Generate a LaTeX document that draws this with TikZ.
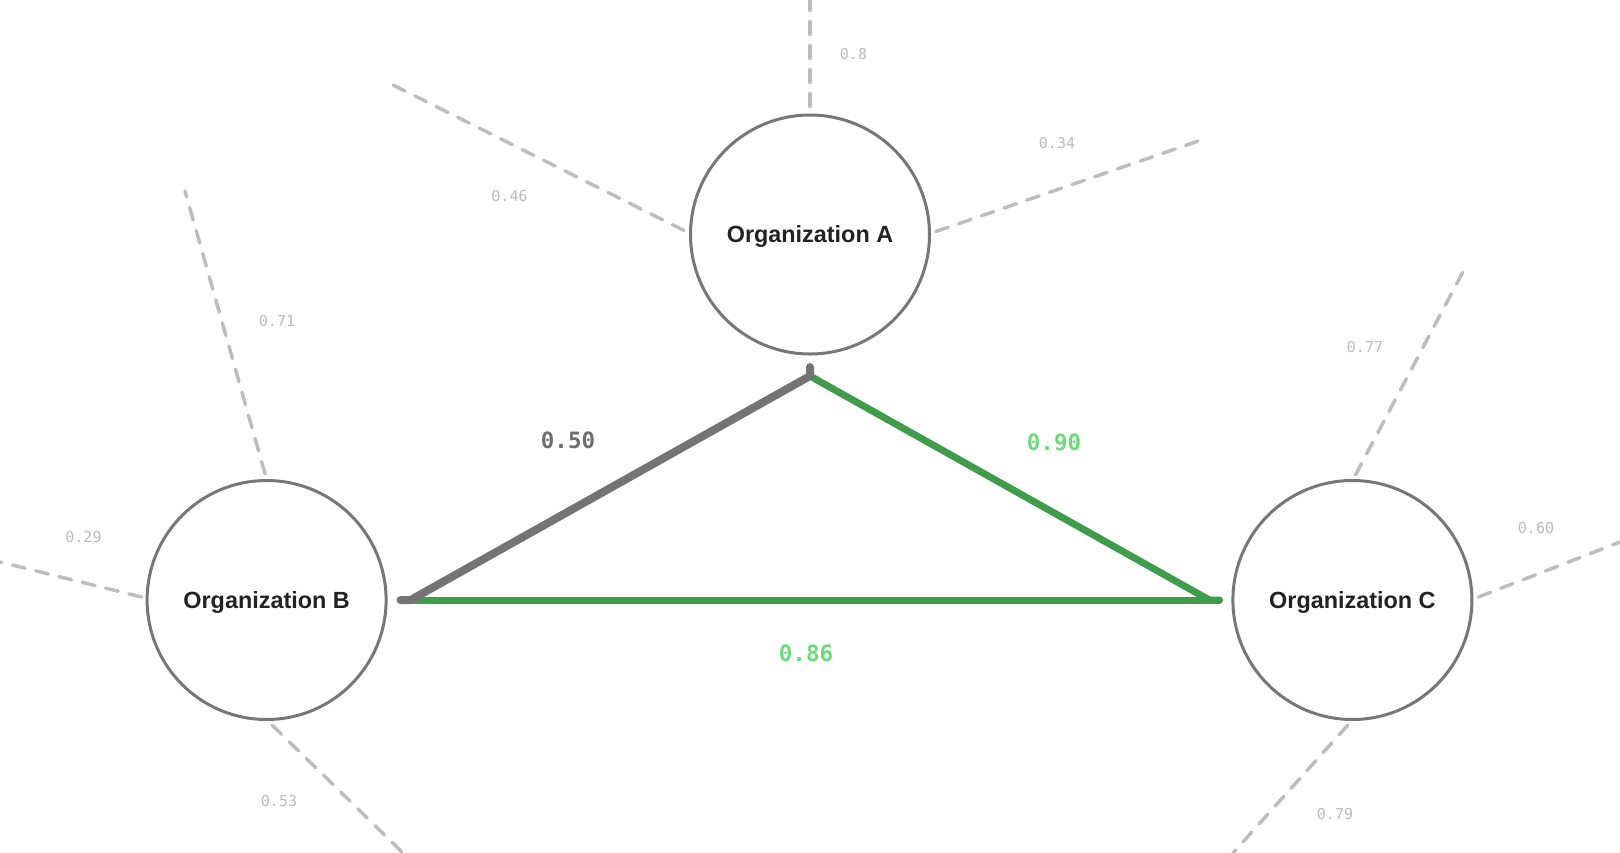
\documentclass[tikz,border=0pt]{standalone}
\usepackage{fontspec}
\setmainfont{Liberation Sans}
\newfontfamily\monofont{DejaVu Sans Mono}
\usetikzlibrary{calc}
\definecolor{ringgray}{HTML}{777777}
\definecolor{edgegray}{HTML}{747474}
\definecolor{edgegreen}{HTML}{3E9C4B}
\definecolor{labgreen}{HTML}{6BDB7B}
\definecolor{labgray}{HTML}{6E6E6E}
\definecolor{spokegray}{HTML}{BDBDBD}
\definecolor{spoketext}{HTML}{BBBBBB}
\definecolor{darktext}{HTML}{222222}
\begin{document}
\begin{tikzpicture}[x=1pt,y=-1pt,
  org/.style={circle,draw=ringgray,line width=3pt,minimum size=239pt,inner sep=0pt,fill=white,
    text=darktext,text depth=0pt,font=\fontsize{23.4}{28}\selectfont\bfseries},
  spoke/.style={draw=spokegray,line width=3.5pt,line cap=round,dash pattern=on 13pt off 11pt},
  spokelabel/.style={text=spoketext,font=\monofont\fontsize{15}{18}\selectfont,inner sep=0pt},
  edgelabel/.style={font=\monofont\bfseries\fontsize{22.5}{26}\selectfont,inner sep=0pt},
  grayedge/.style={draw=edgegray,line width=8pt,line cap=round,line join=round},
  greenedge/.style={draw=edgegreen,line width=7pt,line cap=round,line join=round}]
\useasboundingbox (0,0) rectangle (1620,852);

% nodes
\node[org] (A) at (810,234.5) {Organization A};
\node[org] (B) at (266.6,600) {Organization B};
\node[org] (C) at (1352.4,600) {Organization C};

% free ends of spokes
\coordinate (a1) at (810,0);
\coordinate (a2) at (385,81);
\coordinate (a3) at (1207,138);
\coordinate (b1) at (185,191);
\coordinate (b2) at (0,562);
\coordinate (b3) at (403,853);
\coordinate (c1) at (1465,268);
\coordinate (c2) at (1620,542);
\coordinate (c3) at (1233,853);

% spokes
\draw[spoke] ($(A.center)+(0,-128)$) -- (a1);
\draw[spoke] ($(A.center)+(-126,-4)$) -- (a2);
\draw[spoke] ($(A.center)+(126,-3)$) -- (a3);
\draw[spoke] ($(B.center)+(-1.5,-126)$) -- (b1);
\draw[spoke] ($(B.center)+(-125,-3)$) -- (b2);
\draw[spoke] ($(B.center)+(5.5,125)$) -- (b3);
\draw[spoke] ($(C.center)+(3,-125)$) -- (c1);
\draw[spoke] ($(C.center)+(126,-3)$) -- (c2);
\draw[spoke] ($(C.center)+(-4.5,125)$) -- (c3);

% spoke labels
\node[spokelabel] (la1) at (853.5,54) {0.8};
\node[spokelabel] (la2) at (509.5,196.5) {0.46};
\node[spokelabel] (la3) at (1057,142.7) {0.34};
\node[spokelabel] (lb1) at (277,321.5) {0.71};
\node[spokelabel] (lb2) at (83.5,537) {0.29};
\node[spokelabel] (lb3) at (279,801.5) {0.53};
\node[spokelabel] (lc1) at (1365,347) {0.77};
\node[spokelabel] (lc2) at (1536,528) {0.60};
\node[spokelabel] (lc3) at (1335,814) {0.79};

% edge ends
\coordinate (Ae) at ($(A.south)+(0,11.5)$);
\coordinate (Aj) at ($(Ae)+(0,9)$);
\coordinate (Be) at ($(B.east)+(13,0)$);
\coordinate (Bj) at ($(Be)+(10,0)$);
\coordinate (Ce) at ($(C.west)+(-12,0)$);
\coordinate (Cj) at ($(Ce)+(-10,0)$);

% edges
\draw[greenedge] (Be) -- (Ce);
\draw[greenedge] (Aj) -- (Cj) -- (Ce);
\draw[grayedge] (Ae) -- (Aj) -- (Bj) -- (Be);

% edge labels
\node[edgelabel,text=labgray] (lab) at (568,440) {0.50};
\node[edgelabel,text=labgreen] (lac) at (1054,442) {0.90};
\node[edgelabel,text=labgreen] (lbc) at (806,653) {0.86};
\end{tikzpicture}
\end{document}
